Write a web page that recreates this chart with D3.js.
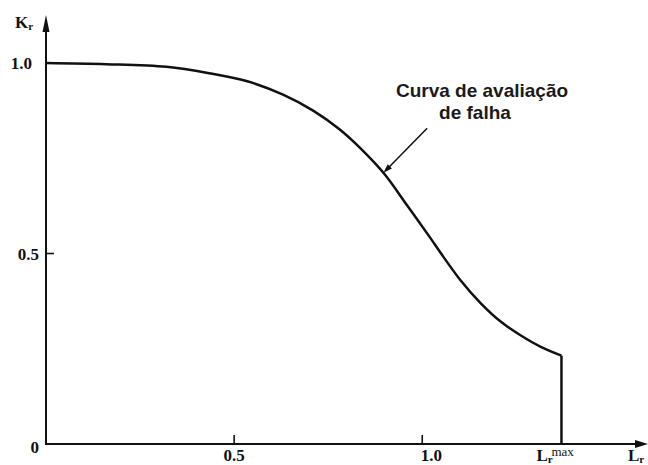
<!DOCTYPE html>
<html>
<head>
<meta charset="utf-8">
<script src="https://cdn.jsdelivr.net/npm/d3@7"></script>
<style>
	body { margin: 0; background: #fff; }
	svg { display: block; }
	.serif { font-family: "Liberation Serif", "DejaVu Serif", serif; font-weight: bold; fill: #111; }
	.note { font-family: "Liberation Sans", Arial, sans-serif; font-weight: bold; fill: #1a1a1a; }
</style>
</head>
<body>
<div class="fad-plot"></div>
<script>
// curve (Lr, Kr)
const lrValues = [0, 0.16, 0.32, 0.43, 0.535, 0.63, 0.71, 0.78, 0.84, 0.9, 0.96, 1.02, 1.05, 1.10, 1.155, 1.21, 1.26, 1.315, 1.37];
const krValues = [1.0, 0.997, 0.99, 0.974, 0.952, 0.917, 0.875, 0.826, 0.772, 0.708, 0.626, 0.543, 0.50, 0.432, 0.37, 0.32, 0.286, 0.255, 0.232];
const lrMax = 1.37;

const xTicks = [0.5, 1.0];
const xTickLabels = ["0.5", "1.0"];
const yTicks = [0.5, 1.0];
const yTickLabels = ["0.5", "1.0"];

const noteLines = ["Curva de avaliação", "de falha"];
const arrowFrom = [1.013, 0.829];
const arrowTo = [0.897, 0.712];

function charting(){
	const width = 648;
	const height = 465;

	const x = d3.scaleLinear().domain([0, 1.6]).range([46, 648]);
	const y = d3.scaleLinear().domain([0, 1.126]).range([444, 15]);

	const svg = d3.select('.fad-plot')
		.append('svg')
		.attr('width', width)
		.attr('height', height)

	const ink = "#111";

	// axes
	svg.append("line")
		.attr("x1", x(0)).attr("y1", y(0))
		.attr("x2", x(1.6) - 8).attr("y2", y(0))
		.attr("stroke", ink).attr("stroke-width", 2)
	svg.append("path")
		.attr("d", `M${x(1.6)},${y(0)} L${x(1.6) - 13},${y(0) - 4} L${x(1.6) - 13},${y(0) + 4} Z`)
		.attr("fill", ink)

	svg.append("line")
		.attr("x1", x(0)).attr("y1", y(0) + 1)
		.attr("x2", x(0)).attr("y2", y(1.126) + 8)
		.attr("stroke", ink).attr("stroke-width", 2)
	svg.append("path")
		.attr("d", `M${x(0)},${y(1.126)} L${x(0) - 3.5},${y(1.126) + 17} L${x(0) + 3.5},${y(1.126) + 17} Z`)
		.attr("fill", ink)

	// ticks pointing inward
	svg.selectAll(".xtick")
		.data(xTicks)
		.enter()
		.append("line")
		.attr("class", "xtick")
		.attr("x1", d => x(d)).attr("x2", d => x(d))
		.attr("y1", y(0)).attr("y2", y(0) - 9)
		.attr("stroke", ink).attr("stroke-width", 1.6)

	svg.selectAll(".ytick")
		.data(yTicks)
		.enter()
		.append("line")
		.attr("class", "ytick")
		.attr("x1", x(0)).attr("x2", x(0) + 8)
		.attr("y1", d => y(d)).attr("y2", d => y(d))
		.attr("stroke", ink).attr("stroke-width", 1.6)

	svg.selectAll(".xlab")
		.data(xTicks)
		.enter()
		.append("text")
		.attr("class", "xlab serif")
		.text((d, i) => xTickLabels[i])
		.attr("x", (d, i) => x(d) + (i == 1 ? 9 : 0))
		.attr("y", y(0) + 17)
		.attr("text-anchor", "middle")
		.attr("font-size", 17)

	svg.selectAll(".ylab")
		.data(yTicks)
		.enter()
		.append("text")
		.attr("class", "ylab serif")
		.text((d, i) => yTickLabels[i])
		.attr("x", (d, i) => i == 0 ? x(0) - 7 : x(0) - 14)
		.attr("y", d => y(d) + 6)
		.attr("text-anchor", "end")
		.attr("font-size", 17)

	svg.append("text")
		.attr("class", "serif")
		.text("0")
		.attr("x", x(0) - 7)
		.attr("y", y(0) + 9)
		.attr("text-anchor", "end")
		.attr("font-size", 17)

	// axis names
	const kr = svg.append("text")
		.attr("class", "serif")
		.attr("x", 15)
		.attr("y", 28)
		.attr("font-size", 17)
	kr.append("tspan").text("K")
	kr.append("tspan").text("r").attr("font-size", 11).attr("dy", 2)

	const lr = svg.append("text")
		.attr("class", "serif")
		.attr("x", x(1.6) - 20)
		.attr("y", y(0) + 17)
		.attr("font-size", 17)
	lr.append("tspan").text("L")
	lr.append("tspan").text("r").attr("font-size", 11).attr("dy", 2)

	const lm = svg.append("text")
		.attr("class", "serif")
		.attr("x", x(lrMax) - 25)
		.attr("y", y(0) + 17)
		.attr("font-size", 17)
	lm.append("tspan").text("L")
	lm.append("tspan").text("r").attr("font-size", 11).attr("dy", 2)
	svg.append("text")
		.attr("class", "serif")
		.text("max")
		.attr("x", x(lrMax) - 10)
		.attr("y", y(0) + 12)
		.attr("font-size", 13)
		.style("font-weight", "normal")

	// failure assessment curve
	const pts = lrValues.map((d, i) => [d, krValues[i]]);
	const line = d3.line()
		.x(d => x(d[0]))
		.y(d => y(d[1]))
		.curve(d3.curveCatmullRom.alpha(0.5))

	svg.append("path")
		.attr("d", line(pts))
		.attr("fill", "none")
		.attr("stroke", ink)
		.attr("stroke-width", 2.5)

	// cut-off at Lr max
	svg.append("line")
		.attr("x1", x(lrMax)).attr("x2", x(lrMax))
		.attr("y1", y(krValues[krValues.length - 1]))
		.attr("y2", y(0))
		.attr("stroke", ink).attr("stroke-width", 2.5)

	// annotation arrow
	const ax0 = x(arrowFrom[0]), ay0 = y(arrowFrom[1]);
	const ax1 = x(arrowTo[0]), ay1 = y(arrowTo[1]);
	const ang = Math.atan2(ay1 - ay0, ax1 - ax0);
	svg.append("line")
		.attr("x1", ax0).attr("y1", ay0)
		.attr("x2", ax1 - 6 * Math.cos(ang)).attr("y2", ay1 - 6 * Math.sin(ang))
		.attr("stroke", ink).attr("stroke-width", 1.5)
	const hl = 9, hw = 3;
	svg.append("path")
		.attr("d", "M" + ax1 + "," + ay1 +
			" L" + (ax1 - hl * Math.cos(ang) + hw * Math.sin(ang)) + "," + (ay1 - hl * Math.sin(ang) - hw * Math.cos(ang)) +
			" L" + (ax1 - hl * Math.cos(ang) - hw * Math.sin(ang)) + "," + (ay1 - hl * Math.sin(ang) + hw * Math.cos(ang)) + " Z")
		.attr("fill", ink)

	svg.selectAll(".note")
		.data(noteLines)
		.enter()
		.append("text")
		.attr("class", "note")
		.text(d => d)
		.attr("x", (d, i) => i == 0 ? 482 : 475)
		.attr("y", (d, i) => 97 + i * 22)
		.attr("text-anchor", "middle")
		.attr("font-size", 19)
}

charting();
</script>
</body>
</html>
